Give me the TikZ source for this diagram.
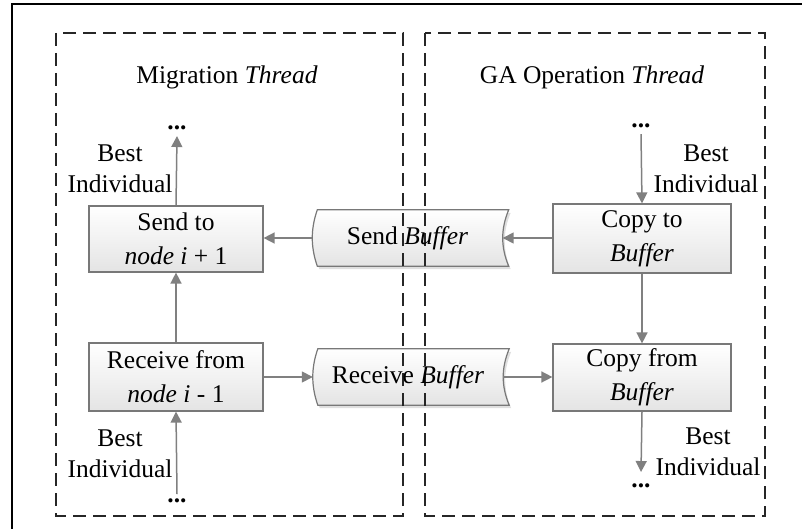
\documentclass[tikz,border=0pt]{standalone}
\usepackage{fontspec}
\setmainfont{Liberation Serif}
\usetikzlibrary{arrows.meta,shadows}
\pgfdeclarelayer{background}
\pgfsetlayers{background,main}
\definecolor{linkgray}{HTML}{808080}
\definecolor{boxline}{HTML}{787878}
\definecolor{boxfill}{HTML}{E4E4E4}
\definecolor{framegray}{HTML}{262626}
\begin{document}
\begin{tikzpicture}[x=1pt,y=-1pt,
  every node/.style={font=\fontsize{25.5}{34}\selectfont, inner sep=0pt, text=black},
  proc/.style={draw=boxline, line width=1.2pt, top color=white, bottom color=boxfill,
    minimum height=66pt, align=center},
  lbl/.style={align=center, font=\fontsize{25.5}{31}\selectfont, anchor=base},
  dotsnode/.style={anchor=base, font=\fontsize{25.5}{30}\selectfont\bfseries},
  title/.style={anchor=base},
  link/.style={draw=linkgray, line width=1.5pt, -{Triangle[length=11pt,width=11pt]}},
  thread/.style={draw=framegray, line width=1.5pt, dash pattern=on 13pt off 7pt},
  bufarea/.style={minimum width=190pt, minimum height=56pt},
  bufshape/.style={draw=boxline, line width=1.2pt, top color=white, bottom color=boxfill,
    drop shadow={shadow xshift=2pt, shadow yshift=-3pt, opacity=0.25}},
]
\useasboundingbox (0,0) rectangle (802,529);

% outer frame (left and top edges)
\draw[line width=2pt, black] (12,529) -- (12,4) -- (802,4);

% thread frames
\draw[thread] (56,33) rectangle (403,516);
\draw[thread] (425,33) rectangle (765,516);

% thread titles
\node[title] (tmig) at (227,84) {Migration \textit{Thread}};
\node[title] (tga) at (592,84) {GA Operation \textit{Thread}};

% process boxes
\node[proc, minimum width=174pt] (send) at (176,239) {Send to\\\textit{node i} + 1};
\node[proc, minimum width=174pt, minimum height=68pt] (recv) at (176,377) {Receive from\\\textit{node i} - 1};
\node[proc, minimum width=178pt, minimum height=69pt] (copyto) at (642,238.5) {Copy to\\\textit{Buffer}};
\node[proc, minimum width=178pt, minimum height=67pt] (copyfrom) at (642,377.5) {Copy from\\\textit{Buffer}};

% buffers
\node[bufarea] (sbuf) at (407.5,238) {Send \textit{Buffer}};
\node[bufarea] (rbuf) at (408,377) {Receive \textit{Buffer}};
\begin{pgfonlayer}{background}
\foreach \b in {sbuf,rbuf}{
  \path[bufshape]
    ([xshift=5pt]\b.north west) -- ([xshift=6pt]\b.north east)
    .. controls ([xshift=-2pt,yshift=9pt]\b.east) and ([xshift=-2pt,yshift=-9pt]\b.east)
    .. ([xshift=6pt]\b.south east) -- ([xshift=5pt]\b.south west)
    .. controls ([xshift=-1.7pt,yshift=-9pt]\b.west) and ([xshift=-1.7pt,yshift=9pt]\b.west)
    .. cycle;
}
\end{pgfonlayer}

% continuation marks
\node[dotsnode] (dlt) at (177,130) {...};
\node[dotsnode] (dlb) at (177,502) {...};
\node[dotsnode] (drt) at (641,128) {...};
\node[dotsnode] (drb) at (641,487) {...};

% labels (anchored at the baseline of the second line)
\node[lbl] (blt) at (120,193) {Best\\Individual};
\node[lbl] (blb) at (120,477) {Best\\Individual};
\node[lbl] (brt) at (706,193) {Best\\Individual};
\node[lbl] (brb) at (708,475) {Best\\Individual};

% connectors
\draw[link] (send.north) -- ([yshift=-10pt]dlt.north);
\draw[link] (recv.north) -- (send.south);
\draw[link] ([yshift=4pt]dlb.north) -- (recv.south);
\draw[link] ([yshift=-10pt]drt.north) -- (copyto.north);
\draw[link] (copyto.south) -- (copyfrom.north);
\draw[link] (copyfrom.south) -- ([yshift=11pt]drb.north);
\draw[link] (sbuf.west) -- (sbuf.west -| send.east);
\draw[link] (sbuf.east -| copyto.west) -- (sbuf.east);
\draw[link] (rbuf.west -| recv.east) -- (rbuf.west);
\draw[link] (rbuf.east) -- (rbuf.east -| copyfrom.west);
\end{tikzpicture}
\end{document}
